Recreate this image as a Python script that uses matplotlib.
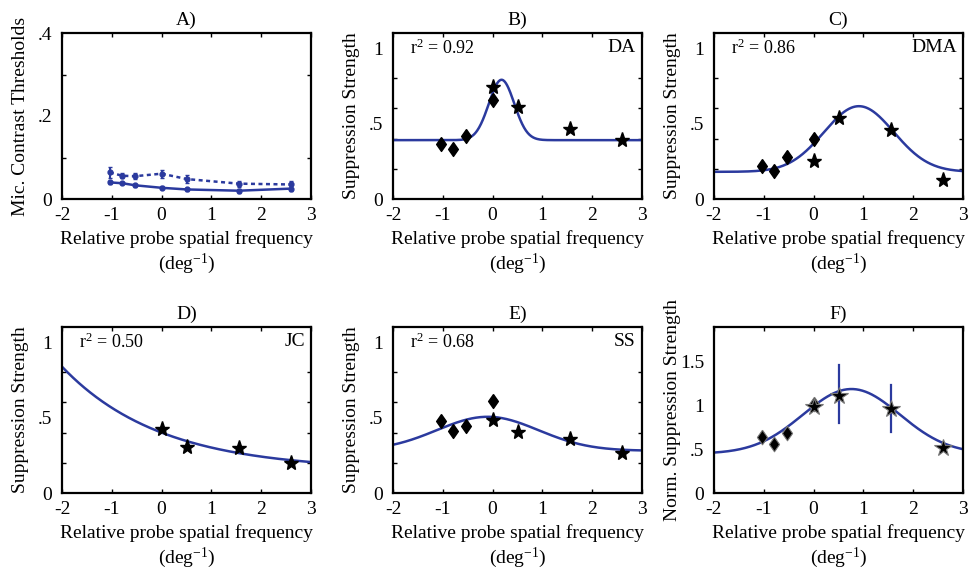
"""Six-panel suppression tuning figure (A-F), redrawn with matplotlib."""
import numpy as np
import matplotlib
matplotlib.use("Agg")
import matplotlib.pyplot as plt

plt.rcParams["font.family"] = ["Liberation Serif", "DejaVu Serif"]
plt.rcParams["font.size"] = 14
plt.rcParams["axes.unicode_minus"] = False
plt.rcParams["mathtext.fontset"] = "custom"
plt.rcParams["mathtext.rm"] = "Liberation Serif"

BLUE = "#2b3a9e"
XLABEL = "Relative probe spatial frequency\n(deg$\\mathregular{^{-1}}$)"
DIAMOND = [(0, 1), (0.7, 0), (0, -1), (-0.7, 0), (0, 1)]

# ---------------------------------------------------------------- data
# panel A: thresholds (solid / dotted conditions) with error bars
a_x = [-1.04, -0.79, -0.53, 0.0, 0.51, 1.55, 2.59]
a_solid = [0.040, 0.038, 0.033, 0.027, 0.023, 0.020, 0.025]
a_solid_err = [0.004, 0.003, 0.003, 0.004, 0.003, 0.005, 0.006]
a_dot = [0.064, 0.056, 0.055, 0.061, 0.048, 0.037, 0.035]
a_dot_err = [0.014, 0.006, 0.008, 0.010, 0.010, 0.007, 0.009]

# diamonds (low-SF probes) and stars (high-SF probes) per subject
dia_x = [-1.04, -0.79, -0.53, 0.0]
star_x = [0.0, 0.52, 1.56, 2.6]
star_x_jc = [0.0, 0.52, 1.55, 2.6]

b_dia = [0.367, 0.330, 0.420, 0.653]
b_star = [0.742, 0.611, 0.464, 0.393]
c_dia = [0.220, 0.184, 0.278, 0.400]
c_star = [0.253, 0.538, 0.456, 0.127]
d_star = [0.423, 0.302, 0.298, 0.199]
e_dia = [0.479, 0.414, 0.447, 0.608]
e_star = [0.481, 0.405, 0.360, 0.268]
f_dia = [0.638, 0.558, 0.690, 1.020]
f_star = [0.987, 1.115, 0.956, 0.513]
f_star_lo = [0.0, 0.80, 0.695, 0.0]
f_star_hi = [0.0, 1.47, 1.24, 0.0]

# fitted curves: gaussian (baseline, amplitude, centre, sigma)
b_fit = [0.39, 0.40, 0.18, 0.255]
c_fit = [0.18, 0.435, 0.91, 0.70]
e_fit = [0.28, 0.225, -0.10, 1.02]
f_fit = [0.45, 0.74, 0.76, 0.97]
# exponential decay (baseline, amplitude, rate) from x = -2
d_fit = [0.15, 0.687, 0.505]

r2 = {"B": "0.92", "C": "0.86", "D": "0.50", "E": "0.68"}
subj = {"B": "DA", "C": "DMA", "D": "JC", "E": "SS"}

xs = np.linspace(-2, 3, 400)


def gauss(p):
    return p[0] + p[1] * np.exp(-(xs - p[2]) ** 2 / (2 * p[3] ** 2))


def style(ax, title, ylim, labels, marks, ylabel):
    ax.set_xlim(-2, 3)
    ax.set_ylim(*ylim)
    ax.set_xticks(range(-2, 4))
    ax.set_yticks([v for v, _ in labels])
    ax.set_yticklabels([t for _, t in labels])
    ax.set_yticks(marks, minor=True)
    ax.tick_params(which="both", direction="in", top=True, right=True,
                   length=3, width=1, labelsize=14)
    ax.tick_params(axis="x", which="major", pad=6)
    ax.tick_params(axis="y", which="major", length=0, pad=7)
    ax.tick_params(axis="x", which="minor", length=0)
    for s in ax.spines.values():
        s.set_linewidth(1.6)
    ax.set_title(title, fontsize=14, pad=6)
    ax.set_xlabel(XLABEL, fontsize=14, linespacing=1.2, labelpad=4)
    ax.set_ylabel(ylabel, fontsize=14, va="center")
    ax.yaxis.set_label_coords(-0.168, 0.5)


def corner(ax, key):
    ax.text(0.07, 0.91, "r$\\mathregular{^2}$ = " + r2[key], transform=ax.transAxes,
            ha="left", va="center", fontsize=13)
    ax.text(0.975, 0.91, subj[key], transform=ax.transAxes,
            ha="right", va="center", fontsize=14)


fig = plt.figure(figsize=(9.74, 5.7), dpi=100)
cols = [62 / 974, 393 / 974, 714 / 974]
w = 249 / 974
rows = [1 - 199 / 570, 1 - 493 / 570]
h = 166 / 570
axA = fig.add_axes([cols[0], rows[0], w, h])
axB = fig.add_axes([cols[1], rows[0], w, h])
axC = fig.add_axes([cols[2], rows[0], w, h])
axD = fig.add_axes([cols[0], rows[1], w, h])
axE = fig.add_axes([cols[1], rows[1], w, h])
axF = fig.add_axes([cols[2], rows[1], w, h])

ss_labels = [(0, "0"), (0.5, ".5"), (1, "1")]
ss_marks = [0, 0.2, 0.4, 0.6, 0.8, 1.0]
dia_kw = dict(ls="none", marker=DIAMOND, ms=10, color="black", zorder=3)
star_kw = dict(ls="none", marker="*", ms=11, color="black", zorder=3)

# A
axA.errorbar(a_x, a_solid, yerr=a_solid_err, color=BLUE, lw=1.8, marker="o",
             ms=3.5, capsize=1.5, elinewidth=1.5)
axA.errorbar(a_x, a_dot, yerr=a_dot_err, color=BLUE, lw=1.8, ls=(0, (1.6, 1.4)),
             marker="o", ms=3.5, capsize=1.5, elinewidth=1.5)
style(axA, "A)", (0, 0.4), [(0, "0"), (0.2, ".2"), (0.4, ".4")],
      [0.1, 0.2, 0.3], "Mic. Contrast Thresholds")

# B
axB.plot(xs, gauss(b_fit), color=BLUE, lw=1.8)
axB.plot(dia_x, b_dia, **dia_kw)
axB.plot(star_x, b_star, **star_kw)
style(axB, "B)", (0, 1.1), ss_labels, ss_marks, "Suppression Strength")
corner(axB, "B")

# C
axC.plot(xs, gauss(c_fit), color=BLUE, lw=1.8)
axC.plot(dia_x, c_dia, **dia_kw)
axC.plot(star_x, c_star, **star_kw)
style(axC, "C)", (0, 1.1), ss_labels, ss_marks, "Suppression Strength")
corner(axC, "C")

# D
axD.plot(xs, d_fit[0] + d_fit[1] * np.exp(-d_fit[2] * (xs + 2)), color=BLUE, lw=1.8)
axD.plot(star_x_jc, d_star, **star_kw)
style(axD, "D)", (0, 1.1), ss_labels, ss_marks, "Suppression Strength")
corner(axD, "D")

# E
axE.plot(xs, gauss(e_fit), color=BLUE, lw=1.8)
axE.plot(dia_x, e_dia, **dia_kw)
axE.plot(star_x, e_star, **star_kw)
style(axE, "E)", (0, 1.1), ss_labels, ss_marks, "Suppression Strength")
corner(axE, "E")

# F
axF.plot(xs, gauss(f_fit), color=BLUE, lw=1.8, zorder=2)
for x, lo, hi in zip(star_x, f_star_lo, f_star_hi):
    if hi > 0:
        axF.plot([x, x], [lo, hi], color=BLUE, lw=1.6, zorder=2)
axF.plot(dia_x, f_dia, ls="none", marker=DIAMOND, ms=10.5, color="black",
         mec="#777777", mew=0.8, zorder=3)
axF.plot(star_x, f_star, ls="none", marker="*", ms=13, color="black",
         mec="#777777", mew=0.8, zorder=3)
style(axF, "F)", (0, 1.9), [(0, "0"), (0.5, ".5"), (1, "1"), (1.5, "1.5")],
      [0, 0.5, 1, 1.5], "Norm. Suppression Strength")

fig.savefig("out.png", dpi=100)
